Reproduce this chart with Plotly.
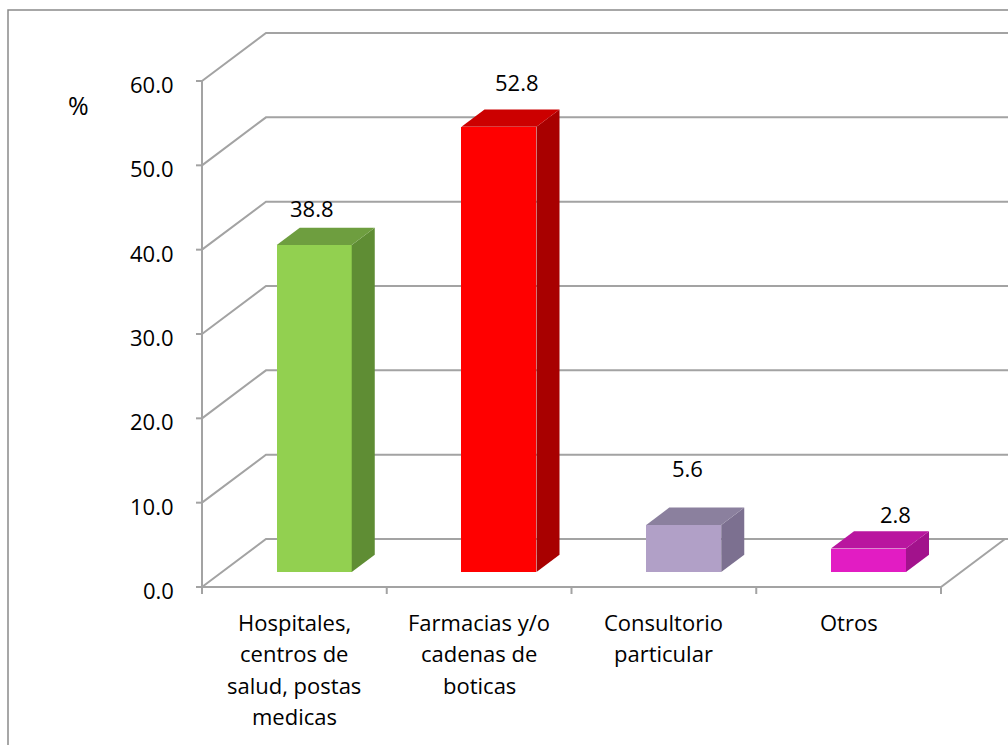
import plotly.graph_objects as go

# ---------------- data ----------------
categories = [
    "Hospitales,<br>centros de<br>salud, postas<br>medicas",
    "Farmacias y/o<br>cadenas de<br>boticas",
    "Consultorio<br>particular",
    "Otros",
]
values = [38.8, 52.8, 5.6, 2.8]
y_ticks = [0, 10, 20, 30, 40, 50, 60]
y_tick_labels = ["0.0", "10.0", "20.0", "30.0", "40.0", "50.0", "60.0"]
value_axis_title = "%"

# ---------------- style ----------------
front_colors = ["#92D050", "#FF0000", "#B1A0C7", "#E21CC3"]
side_colors = ["#5F8D34", "#A80000", "#7C7090", "#A2128C"]
top_colors = ["#6E9E3F", "#CC0000", "#8B809E", "#B9169F"]
label_xshift = [-2, 18, 4, 27]      # px, label placement tweaks
label_yshift = [37, 45, 57, 35]     # px above front top edge
FONT = "Open Sans"
FS = 22
GRID = "#A3A3A3"

W, H = 1008, 745
PX_X0 = 202            # pixel of x = -0.5 (front left corner)
PX_UNIT_X = 184.75     # px per category
PX_Y0 = 587            # pixel of value 0 on the front plane
PX_UNIT_Y = 506 / 60   # px per value unit
PLOT_L, PLOT_R, PLOT_T, PLOT_B = 196, 1008, 10, 605

xr = [-0.5 - (PX_X0 - PLOT_L) / PX_UNIT_X, -0.5 + (PLOT_R - PX_X0) / PX_UNIT_X]
yr = [-(PLOT_B - PX_Y0) / PX_UNIT_Y, (PX_Y0 - PLOT_T) / PX_UNIT_Y]

DX = 64 / PX_UNIT_X    # depth offset (x units)
DY = 48 / PX_UNIT_Y    # depth offset (value units)
F1, F2 = 0.31, 0.67    # bar front / back depth fractions
BAR_W = 75 / PX_UNIT_X

n = len(categories)
fig = go.Figure()

# front faces
fig.add_trace(go.Bar(
    x=[i + F1 * DX for i in range(n)], y=values, base=F1 * DY, width=BAR_W,
    marker=dict(color=front_colors, line=dict(width=0)),
    hoverinfo="skip", showlegend=False))

# side and top faces
for i, v in enumerate(values):
    L = i + F1 * DX - BAR_W / 2
    R = i + F1 * DX + BAR_W / 2
    ddx = (F2 - F1) * DX
    y1 = F1 * DY
    y2 = F2 * DY
    fig.add_trace(go.Scatter(
        x=[R, R + ddx, R + ddx, R, R], y=[y1, y2, y2 + v, y1 + v, y1],
        fill="toself", fillcolor=side_colors[i], mode="lines",
        line=dict(width=0, color=side_colors[i]), hoverinfo="skip", showlegend=False))
    fig.add_trace(go.Scatter(
        x=[L, L + ddx, R + ddx, R, L], y=[y1 + v, y2 + v, y2 + v, y1 + v, y1 + v],
        fill="toself", fillcolor=top_colors[i], mode="lines",
        line=dict(width=0, color=top_colors[i]), hoverinfo="skip", showlegend=False))

shapes = []
# back wall gridlines with diagonals
for v in y_ticks:
    shapes.append(dict(type="path", xref="x", yref="y", layer="below",
                       path=f"M {-0.5},{v} L {-0.5 + DX},{v + DY} L {xr[1] + 1},{v + DY}",
                       line=dict(color=GRID, width=2)))
    # tick marks on value axis
    shapes.append(dict(type="line", xref="x", yref="y", layer="below",
                       x0=-0.5 - 6 / PX_UNIT_X, x1=-0.5, y0=v, y1=v,
                       line=dict(color=GRID, width=2)))
# front value axis
shapes.append(dict(type="line", xref="x", yref="y", layer="below",
                   x0=-0.5, x1=-0.5, y0=0, y1=max(y_ticks),
                   line=dict(color=GRID, width=2)))
# floor front edge and right diagonal
shapes.append(dict(type="path", xref="x", yref="y", layer="below",
                   path=f"M -0.5,0 L {n - 0.5},0 L {n - 0.5 + DX},{DY}",
                   line=dict(color=GRID, width=2)))
# category ticks
for b in range(n + 1):
    shapes.append(dict(type="line", xref="x", yref="y", layer="below",
                       x0=b - 0.5, x1=b - 0.5, y0=0, y1=-7 / PX_UNIT_Y,
                       line=dict(color=GRID, width=2)))
# outer chart frame
pw, ph = PLOT_R - PLOT_L, PLOT_B - PLOT_T
shapes.append(dict(type="rect", xref="paper", yref="paper",
                   x0=(8 - PLOT_L) / pw, x1=(1030 - PLOT_L) / pw,
                   y0=(PLOT_B - 770) / ph, y1=(PLOT_B - 10) / ph,
                   line=dict(color="#8A8A8A", width=1.5)))

annotations = []
for v, t in zip(y_ticks, y_tick_labels):
    annotations.append(dict(x=-0.5, y=v, xref="x", yref="y", text=t, showarrow=False,
                            xanchor="right", yanchor="middle", xshift=-26, yshift=-3,
                            font=dict(family=FONT, size=FS, color="#000")))
annotations.append(dict(x=-0.5, y=max(y_ticks), xref="x", yref="y", text=value_axis_title,
                        showarrow=False, xanchor="center", yanchor="middle",
                        xshift=78 - PX_X0, yshift=-24,
                        font=dict(family=FONT, size=25, color="#000")))
for i, c in enumerate(categories):
    for k, line in enumerate(c.split("<br>")):
        annotations.append(dict(x=i, y=0, xref="x", yref="y", text=line, showarrow=False,
                                xanchor="center", yanchor="middle",
                                yshift=-(35 + k * 31.3),
                                font=dict(family=FONT, size=FS, color="#000")))
for i, v in enumerate(values):
    annotations.append(dict(x=i + F1 * DX, y=v + F1 * DY, xref="x", yref="y",
                            text=f"{v:.1f}", showarrow=False,
                            xanchor="center", yanchor="middle",
                            xshift=label_xshift[i], yshift=label_yshift[i],
                            font=dict(family=FONT, size=FS, color="#000")))

fig.update_layout(
    width=W, height=H,
    margin=dict(l=PLOT_L, r=W - PLOT_R, t=PLOT_T, b=H - PLOT_B),
    paper_bgcolor="white", plot_bgcolor="rgba(0,0,0,0)",
    xaxis=dict(range=xr, visible=False, fixedrange=True),
    yaxis=dict(range=yr, visible=False, fixedrange=True),
    shapes=shapes, annotations=annotations, showlegend=False,
    bargap=0,
)
fig.write_html(
    "out.html",
    config={"displayModeBar": False},
    post_script="document.body.style.margin='0';document.body.style.padding='0';"
                "document.body.style.overflow='hidden';",
)
